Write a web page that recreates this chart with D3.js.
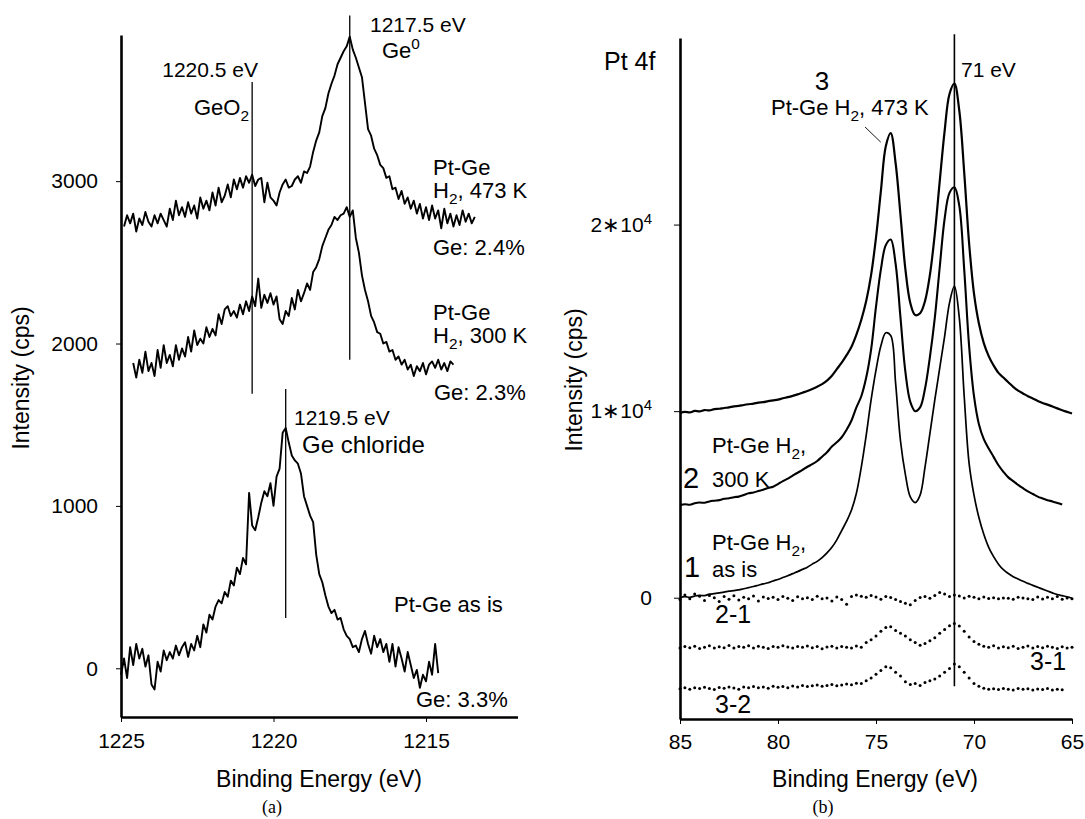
<!DOCTYPE html>
<html><head><meta charset="utf-8">
<script src="https://cdn.jsdelivr.net/npm/d3@7"></script>
<style>
body{margin:0;background:#fff}
svg{display:block}
</style>
</head><body>
<svg id="c" width="1085" height="819"></svg>
<script>
// ---------------- DATA: panel (a) Ge 2p ----------------
const geXTicks = [1225, 1220, 1215];
const geYTicks = [0, 1000, 2000, 3000];
const geStep = 0.1;                       // eV sampling step
const ge473Start = 1224.9;                // Pt-Ge H2, 473 K
const ge473 = [
2720,2790,2740,2800,2690,2770,2730,2810,2750,2720,
2790,2740,2800,2760,2720,2830,2760,2880,2790,2840,
2780,2870,2800,2850,2770,2900,2830,2880,2820,2930,
2850,2960,2870,2910,2980,2900,3010,2950,3020,2960,
3030,2990,3040,2970,3010,3020,2870,2990,2900,2880,
2850,2930,2980,3010,2960,2970,3010,3030,2990,3060,
3050,3090,3180,3250,3300,3400,3450,3540,3600,3650,
3720,3760,3800,3830,3890,3810,3760,3700,3640,3480,
3320,3280,3200,3160,3100,3080,3020,3030,2950,2960,
2890,2940,2860,2900,2830,2880,2800,2860,2770,2840,
2760,2850,2770,2820,2710,2830,2740,2800,2720,2790,
2730,2820,2750,2800,2740,2780];
const ge300Start = 1224.6;                // Pt-Ge H2, 300 K
const ge300 = [
1880,1790,1900,1820,1950,1830,1880,1800,1960,
1850,1990,1880,1930,1860,1990,1900,1970,1920,2040,
1950,2080,1990,2030,2000,2100,2040,2090,2050,2180,
2120,2210,2230,2170,2200,2160,2240,2180,2260,2200,
2290,2230,2400,2220,2300,2250,2310,2240,2290,2150,
2120,2200,2170,2280,2210,2330,2260,2310,2370,2330,
2440,2470,2520,2600,2650,2700,2730,2780,2760,2790,
2800,2840,2780,2820,2650,2560,2420,2330,2260,2170,
2130,2070,2060,2000,2010,1950,1960,1900,1920,1870,
1900,1840,1870,1800,1860,1830,1880,1810,1870,1890,
1850,1900,1840,1880,1830,1890,1870];
const geAsIsStart = 1225.0;               // Pt-Ge as is
const geAsIs = [
-40,60,-60,130,20,150,60,120,10,80,
-100,-130,40,-20,110,50,100,60,140,80,
130,160,70,150,110,200,130,270,220,330,
300,380,420,400,470,440,540,510,620,580,
680,640,1080,880,850,930,1020,1090,1060,1140,
1000,1180,1230,1450,1480,1390,1310,1280,1260,1200,
1060,1000,940,900,700,580,530,450,380,340,
360,300,310,240,200,180,130,140,100,180,
230,150,90,200,130,180,100,150,40,150,
10,130,60,-20,100,20,-60,-10,-120,-40,
-80,40,-40,150,-30];
// reference lines: energy, top, bottom (cps)
const geMarkE = [1220.7, 1217.5, 1219.6];
const geMarkTop = [3610, 4020, 1720];
const geMarkBot = [1690, 1900, 310];

// ---------------- DATA: panel (b) Pt 4f ----------------
const ptXTicks = [85, 80, 75, 70, 65];
const ptYTicks = [0, 10000, 20000];
const ptStart = 85, ptStep = 0.25;
const pt473 = [   // curve 3
9900,9960,9930,10010,9990,10060,10040,10110,10130,10170,
10200,10260,10280,10330,10370,10400,10460,10480,10540,10580,
10620,10690,10750,10820,10900,10990,11080,11190,11310,11450,
11640,11900,12250,12600,13000,13450,14100,14900,15900,17300,
19300,21800,24200,24900,23300,20500,17600,15800,15150,15250,
15900,17300,19500,22300,25000,27000,27550,26100,22800,19000,
16300,14700,13650,12950,12450,12050,11800,11550,11300,11100,
10950,10800,10680,10550,10440,10350,10250,10150,10050,9960,
9870];
const pt300 = [   // curve 2
4950,5010,4980,5060,5100,5090,5160,5200,5230,5300,
5330,5390,5420,5500,5600,5640,5720,5790,5880,5950,
6090,6250,6380,6540,6700,6850,7020,7160,7330,7560,
7800,8100,8330,8600,9000,9500,10200,10800,11800,13300,
15600,17600,18900,19200,17900,15000,12100,10500,10000,10200,
11200,12900,15000,17700,20300,21700,22000,21000,17600,13500,
10800,9300,8500,8000,7550,7100,6750,6450,6250,6050,
5870,5700,5560,5420,5320,5230,5160,5080,5000];
const ptAsIs = [  // curve 1
0,60,20,90,130,110,190,220,260,300,
350,380,420,480,540,600,670,740,800,900,
980,1080,1180,1290,1400,1520,1640,1800,1950,2150,
2400,2700,3100,3600,4100,4700,5600,7000,8700,10600,
12200,13500,14200,14050,11500,8400,6600,5400,5100,5500,
7000,8800,10600,12300,14000,15800,16700,15000,10800,7200,
5500,4300,3400,2700,2200,1800,1500,1300,1130,1000,
880,770,660,560,460,360,260,170,110,50,
-30];
const ptDiff21 = [
-100,150,-50,200,80,-150,120,0,-200,60,
-80,100,-120,30,-60,90,-180,40,-40,20,
-90,60,-30,-150,50,-60,0,-100,80,-50,
-20,-170,40,-90,-350,60,150,80,20,120,
40,-80,60,10,-100,-200,-300,-380,-150,10,
60,-30,120,280,200,60,140,90,-20,80,
30,-50,40,-40,0,-60,-20,-30,-80,20,
-10,-60,-100,40,-70,20,-50,60,-80,-20,
-60];
const ptDiff31 = [
-2700,-2620,-2680,-2600,-2720,-2650,-2580,-2700,-2630,-2680,
-2560,-2700,-2620,-2650,-2580,-2690,-2600,-2660,-2720,-2610,
-2650,-2580,-2640,-2700,-2620,-2660,-2590,-2680,-2610,-2730,
-2640,-2600,-2690,-2620,-2660,-2700,-2590,-2650,-2400,-2250,
-2050,-1800,-1600,-1550,-1750,-1900,-2050,-2250,-2400,-2550,
-2450,-2300,-2150,-1900,-1700,-1500,-1380,-1520,-1800,-2100,
-2350,-2500,-2600,-2650,-2580,-2700,-2630,-2680,-2600,-2720,
-2650,-2590,-2700,-2620,-2680,-2600,-2650,-2720,-2630,-2690,
-2650];
const ptDiff32 = [
-4880,-4820,-4900,-4830,-4870,-4800,-4860,-4920,-4810,-4850,
-4790,-4840,-4900,-4780,-4830,-4760,-4820,-4790,-4850,-4740,
-4800,-4760,-4820,-4730,-4780,-4700,-4760,-4720,-4680,-4740,
-4700,-4650,-4720,-4680,-4620,-4660,-4580,-4600,-4450,-4300,
-4100,-3900,-3700,-3750,-4000,-4200,-4500,-4650,-4600,-4700,
-4550,-4450,-4350,-4200,-4000,-3800,-3550,-3700,-4000,-4300,
-4600,-4750,-4850,-4900,-4880,-4920,-4860,-4900,-4940,-4870,
-4910,-4880,-4950,-4890,-4920,-4870,-4940,-4900,-4930];
const ptMarkE = 71, ptMarkTop = 30200, ptMarkBot = -4750;
const ptLeader = [[75.56, 25230], [74.76, 24420]];

// ---------------- DRAWING ----------------
const FONT = '"Liberation Sans", Arial, Helvetica, sans-serif';
const svg = d3.select("#c");
svg.append("rect").attr("width",1085).attr("height",819).attr("fill","#fff");

function toPts(vals, start, step){ return vals.map((v,i)=>({e:start - i*step, v:v})); }

function txt(x, y, parts, size, anchor){
  const t = svg.append("text").attr("x",x).attr("y",y)
    .attr("font-family",FONT).attr("font-size",size)
    .attr("text-anchor",anchor||"start").attr("fill","#000");
  let shift = 0;
  parts.forEach(p=>{
    const s = typeof p === "string" ? [p,""] : p;
    const ts = t.append("tspan").text(s[0]);
    let target = 0;
    if (s[1]==="sub"){ target = size*0.28; ts.attr("font-size", size*0.7); }
    else if (s[1]==="sup"){ target = -size*0.42; ts.attr("font-size", size*0.7); }
    if (target !== shift){ ts.attr("dy", target - shift); shift = target; }
  });
  return t;
}

function styleAxis(g, size){
  g.attr("font-family",FONT).attr("font-size",size);
  g.select(".domain").attr("stroke","#000").attr("stroke-width",2.6);
  g.selectAll(".tick line").attr("stroke","#000").attr("stroke-width",1);
  g.selectAll(".tick text").attr("fill","#000");
}

// ---- Panel (a)
const xL = d3.scaleLinear().domain([1225,1212]).range([121,517.5]);
const yL = d3.scaleLinear().domain([-300,3900]).range([717,35]);

const gxL = svg.append("g").attr("transform","translate(0,717)")
  .call(d3.axisBottom(xL).tickValues(geXTicks).tickSize(5).tickSizeOuter(0).tickPadding(11).tickFormat(d3.format("d")));
styleAxis(gxL, 21);
const gyL = svg.append("g").attr("transform","translate(121,0)")
  .call(d3.axisLeft(yL).tickValues(geYTicks).tickSize(5).tickSizeOuter(0).tickPadding(18).tickFormat(d3.format("d")));
styleAxis(gyL, 21);

const lineL = d3.line().x(d=>xL(d.e)).y(d=>yL(d.v));
[[ge473,ge473Start],[ge300,ge300Start],[geAsIs,geAsIsStart]].forEach(([vals,st])=>{
  svg.append("path").datum(toPts(vals,st,geStep)).attr("d",lineL)
    .attr("fill","none").attr("stroke","#000").attr("stroke-width",1.9).attr("stroke-linejoin","round");
});
svg.selectAll(".gemark").data(geMarkE).enter().append("line")
  .attr("x1",d=>xL(d)).attr("x2",d=>xL(d))
  .attr("y1",(d,i)=>yL(geMarkTop[i])).attr("y2",(d,i)=>yL(geMarkBot[i]))
  .attr("stroke","#000").attr("stroke-width",1.3);

txt(258,77,["1220.5 eV"],21,"end");
txt(249,115,["GeO",["2","sub"]],22,"end");
txt(370,32,["1217.5 eV"],21);
txt(382,58,["Ge",["0","sup"]],22);
txt(433,175,["Pt-Ge"],22);
txt(433,198,["H",["2","sub"],[", 473 K",""]],22);
txt(433,255,["Ge: 2.4%"],22);
txt(433,320,["Pt-Ge"],22);
txt(433,343,["H",["2","sub"],[", 300 K",""]],22);
txt(434,400,["Ge: 2.3%"],22);
txt(294,425,["1219.5 eV"],21);
txt(302,453,["Ge chloride"],24);
txt(394,612,["Pt-Ge as is"],22);
txt(416,707,["Ge: 3.3%"],22);
txt(319,787,["Binding Energy (eV)"],23,"middle");
svg.append("text").attr("transform","translate(29,378) rotate(-90)")
  .attr("text-anchor","middle").attr("font-family",FONT).attr("font-size",23).text("Intensity (cps)");
svg.append("text").attr("x",272).attr("y",813).attr("text-anchor","middle")
  .attr("font-family",'"Liberation Serif","DejaVu Serif",serif').attr("font-size",18).text("(a)");

// ---- Panel (b)
const xR = d3.scaleLinear().domain([85,65]).range([680,1072]);
const yR = d3.scaleLinear().domain([-6500,30000]).range([719,38]);

const gxR = svg.append("g").attr("transform","translate(0,719)")
  .call(d3.axisBottom(xR).tickValues(ptXTicks).tickSize(5).tickSizeOuter(0).tickPadding(10).tickFormat(d3.format("d")));
styleAxis(gxR, 21);
const gyR = svg.append("g").attr("transform","translate(680,0)")
  .call(d3.axisLeft(yR).tickValues(ptYTicks).tickSize(6).tickSizeOuter(0).tickPadding(22).tickFormat(""));
styleAxis(gyR, 21);
gyR.selectAll(".tick text").each(function(d){
  const t = d3.select(this);
  t.text(null);
  if (d === 0){ t.append("tspan").text("0"); }
  else {
    t.append("tspan").text((d/10000) + "\u2217" + "10");
    t.append("tspan").text("4").attr("font-size",15).attr("dy",-8);
  }
});

const lineR = d3.line().x(d=>xR(d.e)).y(d=>yR(d.v)).curve(d3.curveCatmullRom.alpha(0.5));
[[pt473,2.2],[pt300,2.1],[ptAsIs,1.7]].forEach(([vals,w])=>{
  svg.append("path").datum(toPts(vals,ptStart,ptStep)).attr("d",lineR)
    .attr("fill","none").attr("stroke","#000").attr("stroke-width",w).attr("stroke-linejoin","round");
});
[ptDiff21, ptDiff31, ptDiff32].forEach(vals=>{
  svg.append("g").selectAll("circle").data(toPts(vals,ptStart,ptStep)).enter().append("circle")
    .attr("cx",d=>xR(d.e)).attr("cy",d=>yR(d.v)).attr("r",1.5).attr("fill","#000");
});
svg.append("line").attr("x1",xR(ptMarkE)).attr("x2",xR(ptMarkE))
  .attr("y1",yR(ptMarkTop)).attr("y2",yR(ptMarkBot)).attr("stroke","#000").attr("stroke-width",1.6);
svg.append("line").attr("x1",xR(ptLeader[0][0])).attr("y1",yR(ptLeader[0][1]))
  .attr("x2",xR(ptLeader[1][0])).attr("y2",yR(ptLeader[1][1])).attr("stroke","#000").attr("stroke-width",0.9);

txt(604,70,["Pt 4f"],25);
txt(822,90,["3"],26,"middle");
txt(771,115,["Pt-Ge H",["2","sub"],[", 473 K",""]],22);
txt(961,77,["71 eV"],21);
txt(712,453,["Pt-Ge H",["2","sub"],[",",""]],22);
txt(712,487,["300 K"],22);
txt(683,488,["2"],29);
txt(712,550,["Pt-Ge H",["2","sub"],[",",""]],22);
txt(712,577,["as is"],22);
txt(684,577,["1"],29);
txt(715,623,["2-1"],25);
txt(1030,670,["3-1"],25);
txt(715,713,["3-2"],25);
txt(875,787,["Binding Energy (eV)"],23,"middle");
svg.append("text").attr("transform","translate(582,380) rotate(-90)")
  .attr("text-anchor","middle").attr("font-family",FONT).attr("font-size",23).text("Intensity (cps)");
svg.append("text").attr("x",823).attr("y",813).attr("text-anchor","middle")
  .attr("font-family",'"Liberation Serif","DejaVu Serif",serif').attr("font-size",18).text("(b)");
</script>
</body></html>
